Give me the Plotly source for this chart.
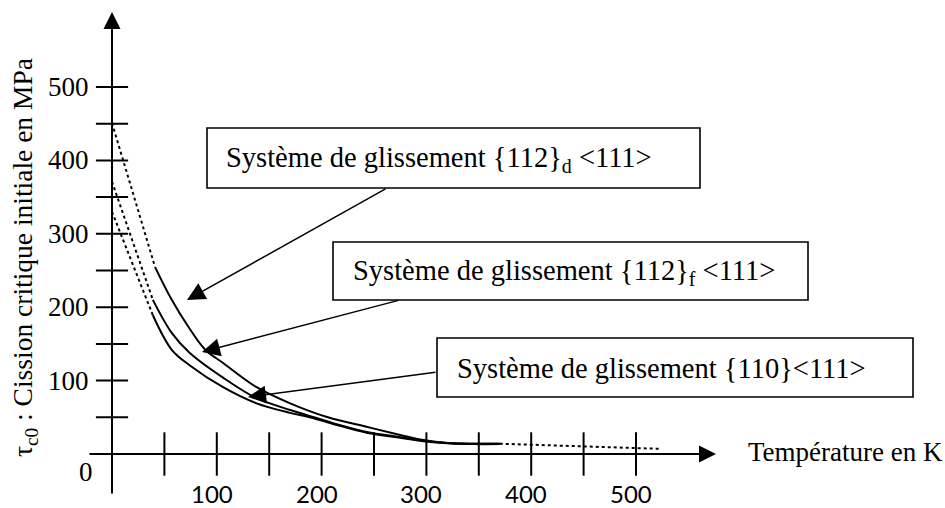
import plotly.graph_objects as go

# ---------------- data ----------------
# solid parts of the three curves (T in K, tau in MPa)
T_d = [41, 57, 73, 89, 106, 138, 170, 206, 243, 275, 297, 320, 345, 370]
tau_d = [255, 210, 173, 142, 124, 91, 69, 50, 37, 26, 19, 15, 14, 14]

T_f = [39, 57, 74, 106, 138, 170, 186, 211, 243, 275, 297, 320, 345, 370]
tau_f = [210, 165, 138, 104, 76, 60, 53, 42, 30, 23, 18, 15, 14, 14]

T_110 = [39, 57, 74, 106, 138, 170, 186, 211, 243, 275, 297, 320, 345, 370]
tau_110 = [189, 142, 121, 91, 69, 56, 51, 41, 29, 22, 17.5, 14.5, 13.5, 13.5]

# dotted extrapolations
T_d_dot = [0, 41]
tau_d_dot = [451, 255]
T_f_dot = [0, 39]
tau_f_dot = [371, 210]
T_110_dot = [0, 39]
tau_110_dot = [330, 189]
T_tail = [370, 523]
tau_tail = [14, 7]

x_tick_vals = [50, 100, 150, 200, 250, 300, 350, 400, 450, 500]
y_tick_vals = [50, 100, 150, 200, 250, 300, 350, 400, 450, 500]
x_label_vals = [100, 200, 300, 400, 500]
x_labels = ["100", "200", "300", "400", "500"]
y_label_vals = [100, 200, 300, 400, 500]
y_labels = ["100", "200", "300", "400", "500"]

box_texts = [
    "Système de glissement {112}<sub>d</sub> &lt;111&gt;",
    "Système de glissement {112}<sub>f</sub> &lt;111&gt;",
    "Système de glissement {110}&lt;111&gt;",
]
y_title = "τ<sub>c0</sub> : Cission critique initiale en MPa"
x_title = "Température en K"

# ---------------- layout geometry ----------------
W, H = 945, 508
X0_PX, Y0_PX = 112, 454      # pixel position of the origin
KX, KY = 1.048, 0.734        # pixels per K, pixels per MPa


def fx(px):
    return (px - X0_PX) / KX


def fy(py):
    return (Y0_PX - py) / KY


SERIF = "Liberation Serif, Times New Roman, serif"
SANS = "Lato, Noto Sans, sans-serif"
FS = 28.5
INK = "black"

fig = go.Figure()

solid = dict(color=INK, width=2)
dotted = dict(color=INK, width=2, dash="dot")
for xs, ys in [(T_d, tau_d), (T_f, tau_f), (T_110, tau_110)]:
    fig.add_trace(go.Scatter(x=xs, y=ys, mode="lines", line=solid,
                             line_shape="spline", hoverinfo="skip"))
for xs, ys in [(T_d_dot, tau_d_dot), (T_f_dot, tau_f_dot),
               (T_110_dot, tau_110_dot), (T_tail, tau_tail)]:
    fig.add_trace(go.Scatter(x=xs, y=ys, mode="lines", line=dotted,
                             hoverinfo="skip"))

# tick marks crossing the axes
fig.add_trace(go.Scatter(
    x=x_tick_vals, y=[0] * len(x_tick_vals), mode="markers",
    marker=dict(symbol="line-ns", size=31, line=dict(color=INK, width=2)),
    hoverinfo="skip"))
fig.add_trace(go.Scatter(
    x=[0] * len(y_tick_vals), y=y_tick_vals, mode="markers",
    marker=dict(symbol="line-ew", size=23, line=dict(color=INK, width=2)),
    hoverinfo="skip"))

ann = []
# axes with arrowheads
ann.append(dict(x=fx(716), y=0, ax=fx(88), ay=0, xref="x", yref="y",
                axref="x", ayref="y", text="", showarrow=True,
                arrowhead=2, arrowsize=1.7, arrowwidth=2, arrowcolor=INK))
ann.append(dict(x=0, y=fy(12), ax=0, ay=fy(495), xref="x", yref="y",
                axref="x", ayref="y", text="", showarrow=True,
                arrowhead=2, arrowsize=1.7, arrowwidth=2, arrowcolor=INK))

# tick labels
for v, t in zip(x_label_vals, x_labels):
    ann.append(dict(x=v, y=fy(493), xref="x", yref="y", text=t,
                    showarrow=False, xshift=-5,
                    font=dict(family=SANS, size=24, color=INK)))
for v, t in zip(y_label_vals, y_labels):
    ann.append(dict(x=fx(91), y=v, xref="x", yref="y", text=t,
                    showarrow=False, xanchor="right",
                    font=dict(family=SERIF, size=27, color=INK)))
ann.append(dict(x=fx(86), y=fy(472), xref="x", yref="y", text="0",
                showarrow=False, font=dict(family=SERIF, size=27, color=INK)))

# axis titles
ann.append(dict(x=fx(24), y=fy(258), xref="x", yref="y", text=y_title,
                textangle=-90, showarrow=False,
                font=dict(family=SERIF, size=27.5, color=INK)))
ann.append(dict(x=fx(746), y=fy(452), xref="x", yref="y", text=x_title,
                xanchor="left", showarrow=False,
                font=dict(family=SERIF, size=27, color=INK)))

# boxes (left, top, right, bottom, text-left in px)
boxes = [(207, 128, 700, 188, 224), (333, 242, 808, 300, 351),
         (437, 338, 913, 397, 455)]
shapes = []
for (l, t, r, b, tl), txt in zip(boxes, box_texts):
    shapes.append(dict(type="rect", xref="x", yref="y", x0=fx(l), x1=fx(r),
                       y0=fy(t), y1=fy(b), line=dict(color=INK, width=1.6)))
    ann.append(dict(x=fx(tl), y=fy((t + b) / 2 + 1), xref="x", yref="y",
                    text=txt, xanchor="left", showarrow=False,
                    font=dict(family=SERIF, size=FS, color=INK)))

# pointer arrows (tail px -> tip px)
pointers = [((387, 188), (187, 300)), ((400, 300), (202, 352)),
            ((437, 372), (248, 397))]
for (tx, ty), (hx, hy) in pointers:
    ann.append(dict(x=fx(hx), y=fy(hy), ax=fx(tx), ay=fy(ty), xref="x",
                    yref="y", axref="x", ayref="y", text="", showarrow=True,
                    arrowhead=2, arrowsize=2.4, arrowwidth=1.5,
                    arrowcolor=INK, standoff=0))

fig.update_layout(
    width=W, height=H, autosize=False,
    margin=dict(l=0, r=0, t=0, b=0),
    paper_bgcolor="white", plot_bgcolor="white",
    showlegend=False,
    xaxis=dict(range=[fx(0), fx(W)], visible=False, fixedrange=True),
    yaxis=dict(range=[fy(H), fy(0)], visible=False, fixedrange=True),
    annotations=ann, shapes=shapes,
)

fig.write_html(
    "out.html",
    config={"displayModeBar": False},
    post_script="document.body.style.margin='0';"
                "document.body.style.overflow='hidden';",
)
